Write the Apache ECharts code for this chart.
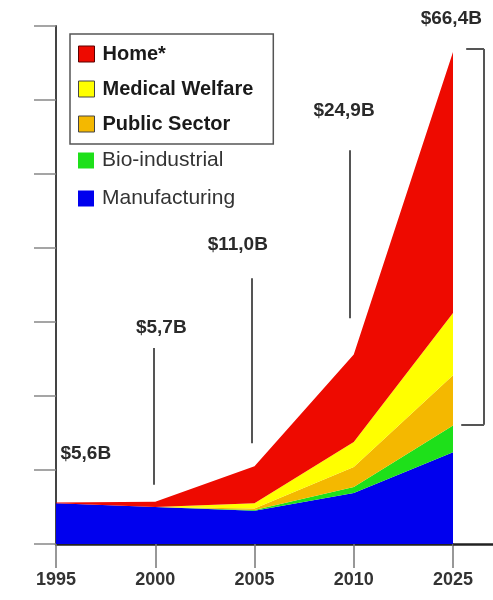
<!DOCTYPE html>
<html>
<head>
<meta charset="utf-8">
<script src="https://cdn.jsdelivr.net/npm/echarts@6.0.0/dist/echarts.min.js"></script>
<style>
html, body { margin: 0; padding: 0; background: #fff; }
#chart { width: 493px; height: 600px; }
</style>
</head>
<body>
<div id="chart"></div>
<script>
var years = ['1995', '2000', '2005', '2010', '2025'];
// stacked layers, bottom to top ($B)
var manufacturing = [5.5, 5.0, 4.5, 6.9, 12.4];
var bioIndustrial = [0, 0, 0.1, 0.8, 3.6];
var publicSector = [0, 0, 0.2, 2.7, 6.8];
var medicalWelfare = [0, 0, 0.7, 3.4, 8.4];
var home = [0.1, 0.7, 5.0, 11.8, 35.3];

// annotation texts and where they sit (x in year index, y in $B)
var annoText = ['$5,6B', '$5,7B', '$11,0B', '$24,9B', '$66,4B'];
var annoX = [0.3, 1.06, 1.83, 2.9, 3.98];
var annoY = [12.2, 29.2, 40.5, 58.6, 69.9];
// leader lines: [x, from, to]
var leaders = [[0.98, 8.0, 26.5], [1.97, 13.6, 35.9], [2.96, 30.5, 53.2]];
// bracket at 2025: [x, low, high]
var bracket = [4.31, 16.1, 66.9];

var font = '"Liberation Sans", Arial, sans-serif';

function layer(name, data, color) {
	return {
		name: name,
		type: 'line',
		stack: 'total',
		data: data,
		showSymbol: false,
		symbol: 'none',
		lineStyle: { width: 0 },
		itemStyle: { color: color },
		areaStyle: { color: color, opacity: 1 }
	};
}

var lineStyle = { color: '#555', width: 2, type: 'solid' };
var marks = leaders.map(function(l) {
	return [{ coord: [l[0], l[1]] }, { coord: [l[0], l[2]] }];
});
marks.push([{ coord: [bracket[0], bracket[1]] }, { coord: [bracket[0], bracket[2]] }]);
marks.push([{ coord: [4.08, bracket[1]] }, { coord: [bracket[0], bracket[1]] }]);
marks.push([{ coord: [4.13, bracket[2]] }, { coord: [bracket[0], bracket[2]] }]);
// x axis line runs on past 2025 to the edge
marks.push([{ coord: [4, 0], lineStyle: { color: '#222', width: 2.5 } }, { coord: [4.4, 0] }]);

var myChart = echarts.init(document.getElementById('chart'));
var option = {
	animation: false,
	grid: [
		{ left: 56, right: 40, top: 26, bottom: 56 },
		// overlay grid for the notes, reaching the right edge
		{ left: 56, right: 0, top: 26, bottom: 56 }
	],
	legend: [{
		orient: 'vertical',
		left: 70,
		top: 34,
		padding: [10, 20, 10, 8],
		itemGap: 15,
		itemWidth: 16,
		itemHeight: 16,
		icon: 'rect',
		borderColor: '#555',
		borderWidth: 1.5,
		selectedMode: false,
		textStyle: {
			fontFamily: font,
			fontSize: 20,
			fontWeight: 'bold',
			color: '#1a1a1a',
			lineHeight: 20,
			padding: [0, 0, 0, 3]
		},
		data: [
			{ name: 'Home*', itemStyle: { borderColor: '#5a0000', borderWidth: 1 } },
			{ name: 'Medical Welfare', itemStyle: { borderColor: '#444', borderWidth: 1 } },
			{ name: 'Public Sector', itemStyle: { borderColor: '#444', borderWidth: 1 } }
		]
	}, {
		orient: 'vertical',
		left: 78,
		top: 150,
		padding: 0,
		itemGap: 17,
		itemWidth: 16,
		itemHeight: 16,
		icon: 'rect',
		selectedMode: false,
		textStyle: {
			fontFamily: font,
			fontSize: 21,
			color: '#333',
			lineHeight: 20,
			padding: [0, 0, 0, 3]
		},
		data: ['Bio-industrial', 'Manufacturing']
	}],
	xAxis: [{
		type: 'category',
		gridIndex: 0,
		data: years,
		boundaryGap: false,
		axisLine: { show: true, lineStyle: { color: '#222', width: 2.5 } },
		axisTick: { show: true, length: 24, lineStyle: { color: '#777', width: 1.5 } },
		axisLabel: {
			margin: 27,
			fontFamily: font,
			fontSize: 18,
			fontWeight: 'bold',
			color: '#333'
		}
	}, {
		type: 'value',
		gridIndex: 1,
		min: 0,
		max: 4.4,
		show: false
	}],
	yAxis: [{
		type: 'value',
		gridIndex: 0,
		min: 0,
		max: 70,
		interval: 10,
		splitLine: { show: false },
		axisLine: { show: true, lineStyle: { color: '#444', width: 2 } },
		axisTick: { show: true, length: 22, lineStyle: { color: '#888', width: 1.5 } },
		axisLabel: { show: false }
	}, {
		type: 'value',
		gridIndex: 1,
		min: 0,
		max: 70,
		show: false
	}],
	series: [
		layer('Manufacturing', manufacturing, '#0000ee'),
		layer('Bio-industrial', bioIndustrial, '#1ee01a'),
		layer('Public Sector', publicSector, '#f4b800'),
		layer('Medical Welfare', medicalWelfare, '#ffff00'),
		layer('Home*', home, '#ee0a00'),
		{
			name: 'notes',
			type: 'scatter',
			xAxisIndex: 1,
			yAxisIndex: 1,
			clip: false,
			silent: true,
			symbolSize: 0,
			z: 3,
			itemStyle: { opacity: 1 },
			data: annoX.map(function(x, i) { return [x, annoY[i]]; }),
			label: {
				show: true,
				position: 'inside',
				fontFamily: font,
				fontSize: 19,
				fontWeight: 'bold',
				color: '#2a2a2a',
				textBorderWidth: 0,
				formatter: function(p) { return annoText[p.dataIndex]; }
			},
			markLine: {
				silent: true,
				symbol: ['none', 'none'],
				label: { show: false },
				lineStyle: lineStyle,
				data: marks
			}
		}
	]
};
// the top note sits just above the plot
option.series[5].data[4] = { value: [annoX[4], annoY[4]], label: { offset: [0, -8] } };
myChart.setOption(option);
</script>
</body>
</html>
